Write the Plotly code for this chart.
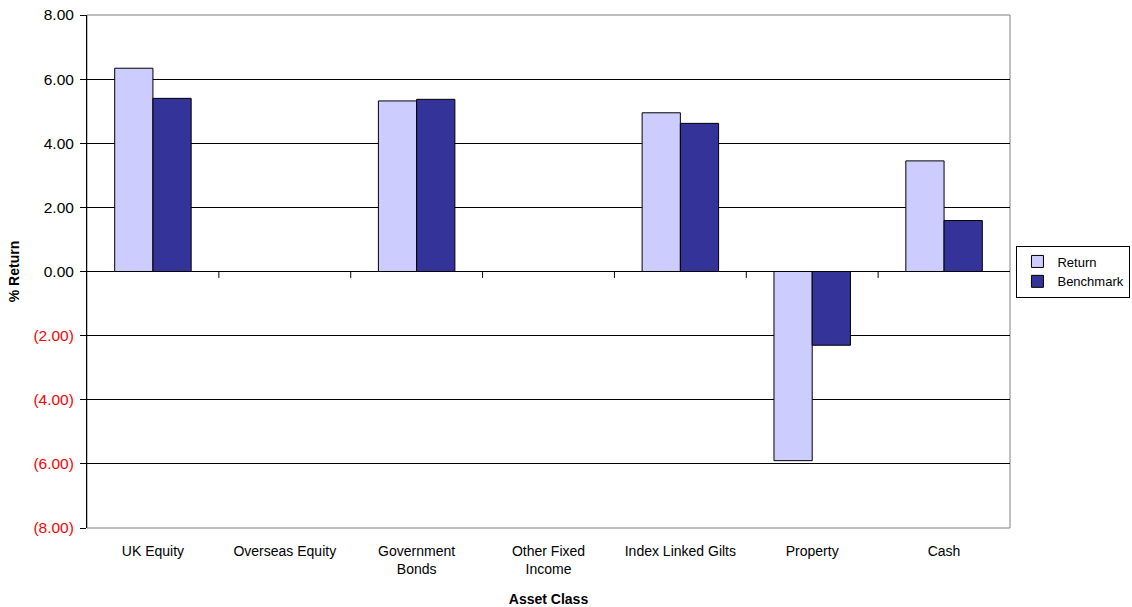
import plotly.graph_objects as go

categories = ["UK Equity", "Overseas Equity", "Government<br>Bonds", "Other Fixed<br>Income",
              "Index Linked Gilts", "Property", "Cash"]
return_vals = [6.34, None, 5.32, None, 4.95, -5.90, 3.45]
benchmark_vals = [5.40, None, 5.37, None, 4.62, -2.30, 1.59]
y_tick_vals = [8, 6, 4, 2, 0, -2, -4, -6, -8]
y_tick_text = ["8.00", "6.00", "4.00", "2.00", "0.00",
               "<span style='color:#FF0000'>(2.00)</span>",
               "<span style='color:#FF0000'>(4.00)</span>",
               "<span style='color:#FF0000'>(6.00)</span>",
               "<span style='color:#FF0000'>(8.00)</span>"]

FONT = "Liberation Sans, Arial, sans-serif"
x_idx = list(range(len(categories)))

fig = go.Figure()
fig.add_trace(go.Bar(name="Return", x=x_idx, y=return_vals,
                     marker=dict(color="#CCCCFF", line=dict(color="#000000", width=1))))
fig.add_trace(go.Bar(name="Benchmark", x=x_idx, y=benchmark_vals,
                     marker=dict(color="#333399", line=dict(color="#000000", width=1))))

# category tick marks at the zero line
for i in range(len(categories) - 1):
    fig.add_shape(type="line", xref="x", yref="y", x0=i + 0.5, x1=i + 0.5, y0=0, y1=-0.2,
                  line=dict(color="#000000", width=1))
# plot area border
fig.add_shape(type="rect", xref="paper", yref="paper", x0=0, x1=1, y0=0, y1=1,
              line=dict(color="#808080", width=1), layer="below")

fig.update_layout(
    width=1132, height=607,
    margin=dict(l=87, r=122, t=15, b=79, autoexpand=False),
    paper_bgcolor="white", plot_bgcolor="white",
    barmode="group", bargap=0.42, bargroupgap=0,
    font=dict(family=FONT, size=14, color="#000000"),
    showlegend=True,
    legend=dict(x=1.007, y=0.5, xanchor="left", yanchor="middle",
                bordercolor="#000000", borderwidth=1, bgcolor="white",
                font=dict(family=FONT, size=13), tracegroupgap=0,
                itemwidth=30),
)
fig.update_xaxes(
    tickmode="array", tickvals=x_idx, ticktext=categories,
    range=[-0.5, len(categories) - 0.5],
    showgrid=False, zeroline=False, showline=False, ticks="",
    ticklabelstandoff=13, tickfont=dict(family=FONT, size=14),
    automargin=False,
    title=dict(text="<b>Asset Class</b>", font=dict(family=FONT, size=14), standoff=18),
)
fig.update_yaxes(
    range=[-8, 8], tickmode="array", tickvals=y_tick_vals, ticktext=y_tick_text,
    showgrid=True, gridcolor="#000000", gridwidth=1,
    zeroline=True, zerolinecolor="#000000", zerolinewidth=1,
    showline=True, linecolor="#000000", linewidth=1,
    ticks="outside", ticklen=6, tickcolor="#000000",
    tickfont=dict(family=FONT, size=15.5), ticklabelstandoff=3,
    automargin=False,
    title=dict(text="<b>% Return</b>", font=dict(family=FONT, size=14), standoff=10),
)

fig.write_html("out.html", config={"displayModeBar": False},
               post_script="document.body.style.margin='0';document.body.style.overflow='hidden';")
